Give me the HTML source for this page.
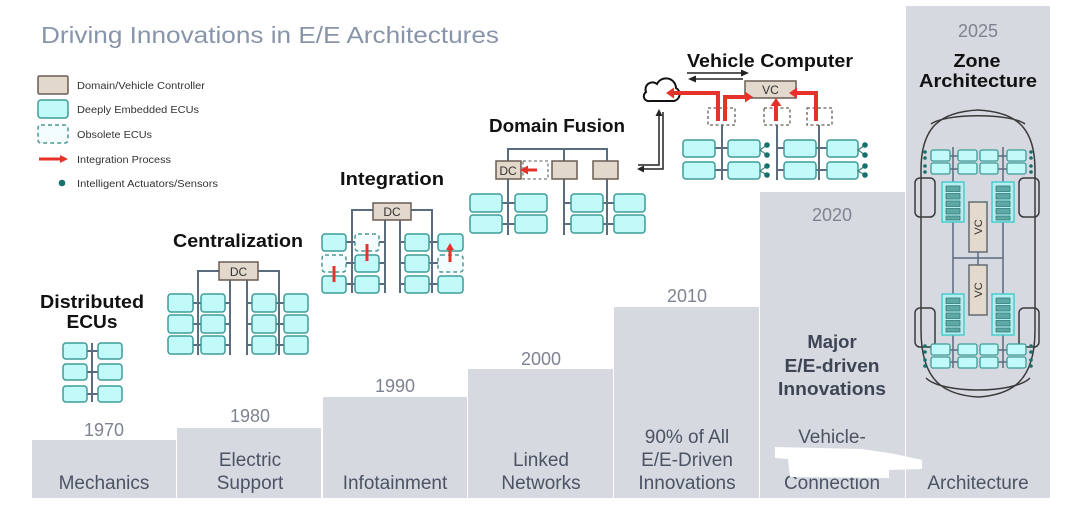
<!DOCTYPE html>
<html>
<head>
<meta charset="utf-8">
<style>
  html,body{margin:0;padding:0;background:#fff;}
  body{width:1080px;height:507px;overflow:hidden;}
  svg{display:block;}
  text{font-family:"Liberation Sans",Arial,sans-serif;}
</style>
</head>
<body>
<svg width="1080" height="507" viewBox="0 0 1080 507" xmlns="http://www.w3.org/2000/svg">
  <!-- steps -->
  <g fill="#d6d9e0">
    <rect x="32" y="440" width="144" height="58"/>
    <rect x="177" y="428" width="144" height="70"/>
    <rect x="323" y="397" width="144" height="101"/>
    <rect x="468" y="369" width="145" height="129"/>
    <rect x="614" y="307" width="145" height="191"/>
    <rect x="760" y="192" width="145" height="306"/>
    <rect x="906" y="6" width="144" height="492"/>
  </g>

  <!-- title -->
  <text x="41" y="43" font-size="23.5" fill="#8894a9" textLength="458" lengthAdjust="spacingAndGlyphs">Driving Innovations in E/E Architectures</text>

  <!-- legend -->
  <rect x="38" y="76" width="30" height="18" rx="1.5" fill="#e2d8cb" stroke="#6a5d54" stroke-width="1.5"/>
  <rect x="38" y="100" width="30" height="18" rx="3" fill="#c2fafa" stroke="#3e9b97" stroke-width="1.5"/>
  <rect x="38" y="125" width="30" height="18" rx="3" fill="#f3fdfd" stroke="#4b9a97" stroke-width="1.5" stroke-dasharray="4,3"/>
  <line x1="39" y1="159" x2="61" y2="159" stroke="#e5332b" stroke-width="3"/>
  <polygon points="68,159 60,155 60,163" fill="#e5332b"/>
  <circle cx="62" cy="183" r="3.3" fill="#17706d"/>
  <g font-size="10" fill="#333">
    <text x="77" y="89" textLength="128" lengthAdjust="spacingAndGlyphs">Domain/Vehicle Controller</text>
    <text x="77" y="113" textLength="122" lengthAdjust="spacingAndGlyphs">Deeply Embedded ECUs</text>
    <text x="77" y="138" textLength="75" lengthAdjust="spacingAndGlyphs">Obsolete ECUs</text>
    <text x="77" y="163" textLength="94" lengthAdjust="spacingAndGlyphs">Integration Process</text>
    <text x="77" y="187" textLength="141" lengthAdjust="spacingAndGlyphs">Intelligent Actuators/Sensors</text>
  </g>

  <!-- section titles -->
  <g font-size="18" font-weight="bold" fill="#111" text-anchor="middle">
    <text x="92" y="308" textLength="104" lengthAdjust="spacingAndGlyphs">Distributed</text>
    <text x="92" y="328" textLength="51" lengthAdjust="spacingAndGlyphs">ECUs</text>
    <text x="238" y="247" textLength="130" lengthAdjust="spacingAndGlyphs">Centralization</text>
    <text x="392" y="185" textLength="104" lengthAdjust="spacingAndGlyphs">Integration</text>
    <text x="557" y="132" textLength="136" lengthAdjust="spacingAndGlyphs">Domain Fusion</text>
    <text x="770" y="67" textLength="166" lengthAdjust="spacingAndGlyphs">Vehicle Computer</text>
    <text x="977" y="67" textLength="47" lengthAdjust="spacingAndGlyphs">Zone</text>
    <text x="978" y="87" textLength="118" lengthAdjust="spacingAndGlyphs">Architecture</text>
  </g>

  <!-- years -->
  <g font-size="18" fill="#7d8391" text-anchor="middle">
    <text x="104" y="436">1970</text>
    <text x="250" y="422">1980</text>
    <text x="395" y="392">1990</text>
    <text x="541" y="365">2000</text>
    <text x="687" y="302">2010</text>
    <text x="832" y="221">2020</text>
    <text x="978" y="37">2025</text>
  </g>

  <!-- bottom labels -->
  <g font-size="19" fill="#4b5364" text-anchor="middle">
    <text x="104" y="489">Mechanics</text>
    <text x="250" y="466">Electric</text>
    <text x="250" y="489">Support</text>
    <text x="395" y="489">Infotainment</text>
    <text x="541" y="466">Linked</text>
    <text x="541" y="489">Networks</text>
    <text x="687" y="443">90% of All</text>
    <text x="687" y="466">E/E-Driven</text>
    <text x="687" y="489">Innovations</text>
    <text x="832" y="443">Vehicle-</text>
    <text x="832" y="466">to-X</text>
    <text x="832" y="489">Connection</text>
    <text x="978" y="489">Architecture</text>
  </g>
  <g font-size="18.5" font-weight="bold" fill="#3d4555" text-anchor="middle">
    <text x="832" y="348">Major</text>
    <text x="832" y="372" textLength="95" lengthAdjust="spacingAndGlyphs">E/E-driven</text>
    <text x="832" y="395" textLength="108" lengthAdjust="spacingAndGlyphs">Innovations</text>
  </g>
  <!-- white smear -->
  <polygon points="775,447 862,449 895,454 922,460 922,469 889,470 889,478 790,477 788,459 775,458" fill="#ffffff"/>

  <!-- ===== Distributed ECUs ===== -->
  <g stroke="#5b6b80" stroke-width="2">
    <line x1="92" y1="343" x2="92" y2="402"/>
    <line x1="87" y1="351" x2="98" y2="351"/>
    <line x1="87" y1="372" x2="98" y2="372"/>
    <line x1="87" y1="394" x2="98" y2="394"/>
  </g>
  <g fill="#c2fafa" stroke="#3e9b97" stroke-width="1.5">
    <rect x="63" y="343" width="24" height="16" rx="3"/>
    <rect x="98" y="343" width="24" height="16" rx="3"/>
    <rect x="63" y="364" width="24" height="16" rx="3"/>
    <rect x="98" y="364" width="24" height="16" rx="3"/>
    <rect x="63" y="386" width="24" height="16" rx="3"/>
    <rect x="98" y="386" width="24" height="16" rx="3"/>
  </g>

  <!-- ===== Centralization ===== -->
  <g stroke="#5b6b80" stroke-width="2" fill="none">
    <polyline points="198,355 198,271 219,271"/>
    <polyline points="258,271 279,271 279,355"/>
    <line x1="230" y1="280" x2="230" y2="355"/>
    <line x1="247" y1="280" x2="247" y2="355"/>
    <line x1="193" y1="303" x2="201" y2="303"/><line x1="193" y1="324" x2="201" y2="324"/><line x1="193" y1="345" x2="201" y2="345"/>
    <line x1="225" y1="303" x2="230" y2="303"/><line x1="225" y1="324" x2="230" y2="324"/><line x1="225" y1="345" x2="230" y2="345"/>
    <line x1="247" y1="303" x2="252" y2="303"/><line x1="247" y1="324" x2="252" y2="324"/><line x1="247" y1="345" x2="252" y2="345"/>
    <line x1="276" y1="303" x2="284" y2="303"/><line x1="276" y1="324" x2="284" y2="324"/><line x1="276" y1="345" x2="284" y2="345"/>
  </g>
  <rect x="219" y="262" width="39" height="18" fill="#e2d8cb" stroke="#6a5d54" stroke-width="1.5"/>
  <text x="238.5" y="276" font-size="12" fill="#333" text-anchor="middle">DC</text>
  <g fill="#c2fafa" stroke="#3e9b97" stroke-width="1.5">
    <rect x="168" y="294" width="25" height="18" rx="3"/><rect x="201" y="294" width="24" height="18" rx="3"/><rect x="252" y="294" width="24" height="18" rx="3"/><rect x="284" y="294" width="24" height="18" rx="3"/>
    <rect x="168" y="315" width="25" height="18" rx="3"/><rect x="201" y="315" width="24" height="18" rx="3"/><rect x="252" y="315" width="24" height="18" rx="3"/><rect x="284" y="315" width="24" height="18" rx="3"/>
    <rect x="168" y="336" width="25" height="18" rx="3"/><rect x="201" y="336" width="24" height="18" rx="3"/><rect x="252" y="336" width="24" height="18" rx="3"/><rect x="284" y="336" width="24" height="18" rx="3"/>
  </g>

  <!-- ===== Integration ===== -->
  <g stroke="#5b6b80" stroke-width="2" fill="none">
    <polyline points="352,293 352,210 373,210"/>
    <polyline points="411,210 432,210 432,293"/>
    <line x1="385" y1="220" x2="385" y2="293"/>
    <line x1="400" y1="220" x2="400" y2="293"/>
    <line x1="346" y1="242" x2="355" y2="242"/><line x1="346" y1="263" x2="355" y2="263"/><line x1="346" y1="284" x2="355" y2="284"/>
    <line x1="379" y1="242" x2="385" y2="242"/><line x1="379" y1="263" x2="385" y2="263"/><line x1="379" y1="284" x2="385" y2="284"/>
    <line x1="400" y1="242" x2="405" y2="242"/><line x1="400" y1="263" x2="405" y2="263"/><line x1="400" y1="284" x2="405" y2="284"/>
    <line x1="429" y1="242" x2="438" y2="242"/><line x1="429" y1="263" x2="438" y2="263"/><line x1="429" y1="284" x2="438" y2="284"/>
  </g>
  <rect x="373" y="203" width="38" height="17" fill="#e2d8cb" stroke="#6a5d54" stroke-width="1.5"/>
  <text x="392" y="216" font-size="12" fill="#333" text-anchor="middle">DC</text>
  <g fill="#c2fafa" stroke="#3e9b97" stroke-width="1.5">
    <rect x="322" y="234" width="24" height="17" rx="3"/><rect x="405" y="234" width="24" height="17" rx="3"/><rect x="438" y="234" width="25" height="17" rx="3"/>
    <rect x="355" y="255" width="24" height="17" rx="3"/><rect x="405" y="255" width="24" height="17" rx="3"/>
    <rect x="322" y="276" width="24" height="17" rx="3"/><rect x="355" y="276" width="24" height="17" rx="3"/><rect x="405" y="276" width="24" height="17" rx="3"/><rect x="438" y="276" width="25" height="17" rx="3"/>
  </g>
  <g fill="#f3fdfd" stroke="#4b9a97" stroke-width="1.5" stroke-dasharray="4,3">
    <rect x="322" y="255" width="24" height="17" rx="3"/>
    <rect x="355" y="234" width="24" height="17" rx="3"/>
    <rect x="438" y="255" width="25" height="17" rx="3"/>
  </g>
  <g stroke="#e5332b" stroke-width="3">
    <line x1="334" y1="266" x2="334" y2="282"/>
    <line x1="367" y1="244" x2="367" y2="261"/>
    <line x1="450" y1="249" x2="450" y2="262"/>
  </g>
  <polygon points="450,243 446,250 454,250" fill="#e5332b"/>

  <!-- ===== Domain Fusion ===== -->
  <g stroke="#5b6b80" stroke-width="2" fill="none">
    <polyline points="508,235 508,149 607,149 607,235"/>
    <line x1="564" y1="149" x2="564" y2="235"/>
    <line x1="502" y1="203" x2="515" y2="203"/><line x1="502" y1="224" x2="515" y2="224"/>
    <line x1="564" y1="203" x2="571" y2="203"/><line x1="564" y1="224" x2="571" y2="224"/>
    <line x1="603" y1="203" x2="614" y2="203"/><line x1="603" y1="224" x2="614" y2="224"/>
  </g>
  <rect x="496" y="161" width="25" height="18" fill="#e2d8cb" stroke="#6a5d54" stroke-width="1.5"/>
  <text x="508" y="175" font-size="12" fill="#333" text-anchor="middle">DC</text>
  <rect x="523" y="161" width="25" height="18" fill="#fff" stroke="#7a7a7a" stroke-width="1.3" stroke-dasharray="3,2.5"/>
  <rect x="552" y="161" width="25" height="18" fill="#e2d8cb" stroke="#6a5d54" stroke-width="1.5"/>
  <rect x="593" y="161" width="25" height="18" fill="#e2d8cb" stroke="#6a5d54" stroke-width="1.5"/>
  <line x1="537" y1="170" x2="526" y2="170" stroke="#e5332b" stroke-width="3"/>
  <polygon points="520,170 528,165.5 528,174.5" fill="#e5332b"/>
  <g fill="#c2fafa" stroke="#3e9b97" stroke-width="1.5">
    <rect x="470" y="194" width="32" height="18" rx="3"/><rect x="515" y="194" width="32" height="18" rx="3"/><rect x="571" y="194" width="32" height="18" rx="3"/><rect x="614" y="194" width="31" height="18" rx="3"/>
    <rect x="470" y="215" width="32" height="18" rx="3"/><rect x="515" y="215" width="32" height="18" rx="3"/><rect x="571" y="215" width="32" height="18" rx="3"/><rect x="614" y="215" width="31" height="18" rx="3"/>
  </g>

  <!-- ===== Vehicle Computer ===== -->
  <!-- black arrows -->
  <g stroke="#222" stroke-width="1.5" fill="none">
    <line x1="687" y1="73" x2="743" y2="73"/>
    <line x1="694" y1="79" x2="743" y2="79"/>
    <polyline points="638,165 659,165 659,115"/>
    <polyline points="663,112 663,169 643,169"/>
  </g>
  <g fill="#222">
    <polygon points="749,73 741,69.5 741,76.5"/>
    <polygon points="688,79 696,75.5 696,82.5"/>
    <polygon points="659,109 655.5,116 662.5,116"/>
    <polygon points="637,169 644,165.5 644,172.5"/>
  </g>
  <!-- cloud -->
  <path d="M650,101 H674 A7,7 0 0 0 676,88 A10,10 0 0 0 657,84 A7,7 0 0 0 646,92 A5,5 0 0 0 650,101 Z" fill="#fff" stroke="#111" stroke-width="2"/>
  <!-- buses -->
  <g stroke="#5b6b80" stroke-width="2" fill="none">
    <line x1="722" y1="125" x2="722" y2="180"/>
    <line x1="777" y1="125" x2="777" y2="180"/>
    <line x1="819" y1="125" x2="819" y2="180"/>
    <line x1="715" y1="148" x2="728" y2="148"/><line x1="715" y1="170" x2="728" y2="170"/>
    <line x1="777" y1="148" x2="784" y2="148"/><line x1="777" y1="170" x2="784" y2="170"/>
    <line x1="816" y1="148" x2="827" y2="148"/><line x1="816" y1="170" x2="827" y2="170"/>
  </g>
  <g fill="#fff" stroke="#6a5d54" stroke-width="1.3" stroke-dasharray="3,2.5">
    <rect x="708" y="108" width="27" height="17"/>
    <rect x="764" y="108" width="26" height="17"/>
    <rect x="807" y="108" width="25" height="17"/>
  </g>
  <rect x="745" y="81" width="51" height="17" fill="#e2d8cb" stroke="#6a5d54" stroke-width="1.5"/>
  <text x="770.5" y="94" font-size="12" fill="#333" text-anchor="middle">VC</text>
  <g stroke="#e5332b" stroke-width="4" fill="none">
    <polyline points="718,121 718,93 673,93"/>
    <polyline points="725,121 725,97 745,97"/>
    <line x1="776" y1="121" x2="776" y2="105"/>
    <polyline points="816,121 816,93 797,93"/>
  </g>
  <g fill="#e5332b">
    <polygon points="666,93 674,87.5 674,98.5"/>
    <polygon points="753,97 745,91.5 745,102.5"/>
    <polygon points="776,98 770.5,106 781.5,106"/>
    <polygon points="789,93 797,87.5 797,98.5"/>
  </g>
  <g fill="#c2fafa" stroke="#3e9b97" stroke-width="1.5">
    <rect x="683" y="140" width="32" height="17" rx="3"/><rect x="728" y="140" width="32" height="17" rx="3"/><rect x="784" y="140" width="32" height="17" rx="3"/><rect x="827" y="140" width="31" height="17" rx="3"/>
    <rect x="683" y="162" width="32" height="17" rx="3"/><rect x="728" y="162" width="32" height="17" rx="3"/><rect x="784" y="162" width="32" height="17" rx="3"/><rect x="827" y="162" width="31" height="17" rx="3"/>
  </g>
  <g stroke="#3e7f7c" stroke-width="1.2" fill="none">
    <polyline points="767,145 760,150 767,155"/>
    <polyline points="767,166 760,171 767,175"/>
    <polyline points="865,145 858,150 865,155"/>
    <polyline points="865,166 858,171 865,175"/>
  </g>
  <g fill="#17706d">
    <circle cx="767" cy="145" r="2.8"/><circle cx="767" cy="155" r="2.8"/>
    <circle cx="767" cy="166" r="2.8"/><circle cx="767" cy="175" r="2.8"/>
    <circle cx="865" cy="145" r="2.8"/><circle cx="865" cy="155" r="2.8"/>
    <circle cx="865" cy="166" r="2.8"/><circle cx="865" cy="175" r="2.8"/>
  </g>

  <!-- ===== Zone Architecture car ===== -->
  <g stroke="#3a3a3a" stroke-width="1.5" fill="none">
    <path d="M921,330 V170 C921,127 940,112 978,110 C1016,112 1035,127 1035,170 V330 C1035,383 1010,395 978,397 C946,395 921,383 921,330 Z"/>
    <path d="M931,124 C946,113 1010,113 1025,124"/>
    <path d="M926,378 C942,394 1014,394 1030,378"/>
    <rect x="915" y="178" width="20" height="39" rx="5"/>
    <rect x="1019" y="178" width="20" height="39" rx="5"/>
    <rect x="915" y="308" width="20" height="39" rx="5"/>
    <rect x="1019" y="308" width="20" height="39" rx="5"/>
  </g>
  <g stroke="#5b6b80" stroke-width="1.5" fill="none">
    <line x1="953" y1="147" x2="953" y2="368"/>
    <line x1="1003" y1="147" x2="1003" y2="368"/>
    <line x1="953" y1="258" x2="1003" y2="258"/>
    <line x1="978" y1="252" x2="978" y2="265"/>
    <line x1="950" y1="156" x2="958" y2="156"/><line x1="950" y1="169" x2="958" y2="169"/>
    <line x1="998" y1="156" x2="1007" y2="156"/><line x1="998" y1="169" x2="1007" y2="169"/>
    <line x1="950" y1="350" x2="958" y2="350"/><line x1="950" y1="362" x2="958" y2="362"/>
    <line x1="998" y1="350" x2="1007" y2="350"/><line x1="998" y1="362" x2="1007" y2="362"/>
  </g>
  <g fill="#c2fafa" stroke="#3e9b97" stroke-width="1.3">
    <rect x="931" y="150" width="19" height="11" rx="2"/><rect x="958" y="150" width="19" height="11" rx="2"/><rect x="980" y="150" width="18" height="11" rx="2"/><rect x="1007" y="150" width="19" height="11" rx="2"/>
    <rect x="931" y="163" width="19" height="11" rx="2"/><rect x="958" y="163" width="19" height="11" rx="2"/><rect x="980" y="163" width="18" height="11" rx="2"/><rect x="1007" y="163" width="19" height="11" rx="2"/>
    <rect x="931" y="344" width="19" height="11" rx="2"/><rect x="958" y="344" width="19" height="11" rx="2"/><rect x="980" y="344" width="18" height="11" rx="2"/><rect x="1007" y="344" width="19" height="11" rx="2"/>
    <rect x="931" y="357" width="19" height="11" rx="2"/><rect x="958" y="357" width="19" height="11" rx="2"/><rect x="980" y="357" width="18" height="11" rx="2"/><rect x="1007" y="357" width="19" height="11" rx="2"/>
  </g>
  <g fill="#17706d">
    <circle cx="925" cy="152" r="1.8"/><circle cx="925" cy="158" r="1.8"/><circle cx="925" cy="166" r="1.8"/><circle cx="925" cy="172" r="1.8"/>
    <circle cx="1031" cy="152" r="1.8"/><circle cx="1031" cy="158" r="1.8"/><circle cx="1031" cy="166" r="1.8"/><circle cx="1031" cy="172" r="1.8"/>
    <circle cx="925" cy="346" r="1.8"/><circle cx="925" cy="352" r="1.8"/><circle cx="925" cy="360" r="1.8"/><circle cx="925" cy="366" r="1.8"/>
    <circle cx="1031" cy="346" r="1.8"/><circle cx="1031" cy="352" r="1.8"/><circle cx="1031" cy="360" r="1.8"/><circle cx="1031" cy="366" r="1.8"/>
  </g>
  <!-- zone controllers -->
  <g>
    <rect x="942" y="182" width="22" height="40" fill="#b9eeee" stroke="#48cccc" stroke-width="1.5"/>
    <rect x="992" y="182" width="22" height="40" fill="#b9eeee" stroke="#48cccc" stroke-width="1.5"/>
    <rect x="942" y="294" width="22" height="41" fill="#b9eeee" stroke="#48cccc" stroke-width="1.5"/>
    <rect x="992" y="294" width="22" height="41" fill="#b9eeee" stroke="#48cccc" stroke-width="1.5"/>
  </g>
  <g fill="#5fa8a6" stroke="#2f7b78" stroke-width="0.8">
    <rect x="946" y="186" width="14" height="5.5"/><rect x="946" y="193.5" width="14" height="5.5"/><rect x="946" y="201" width="14" height="5.5"/><rect x="946" y="208.5" width="14" height="5.5"/><rect x="946" y="216" width="14" height="4"/>
    <rect x="996" y="186" width="14" height="5.5"/><rect x="996" y="193.5" width="14" height="5.5"/><rect x="996" y="201" width="14" height="5.5"/><rect x="996" y="208.5" width="14" height="5.5"/><rect x="996" y="216" width="14" height="4"/>
    <rect x="946" y="298" width="14" height="5.5"/><rect x="946" y="305.5" width="14" height="5.5"/><rect x="946" y="313" width="14" height="5.5"/><rect x="946" y="320.5" width="14" height="5.5"/><rect x="946" y="328" width="14" height="4"/>
    <rect x="996" y="298" width="14" height="5.5"/><rect x="996" y="305.5" width="14" height="5.5"/><rect x="996" y="313" width="14" height="5.5"/><rect x="996" y="320.5" width="14" height="5.5"/><rect x="996" y="328" width="14" height="4"/>
  </g>
  <rect x="969" y="202" width="18" height="50" fill="#e3dacd" stroke="#646a72" stroke-width="1.5"/>
  <rect x="969" y="265" width="18" height="50" fill="#e3dacd" stroke="#646a72" stroke-width="1.5"/>
  <text transform="translate(982,227) rotate(-90)" font-size="11" fill="#333" text-anchor="middle">VC</text>
  <text transform="translate(982,290) rotate(-90)" font-size="11" fill="#333" text-anchor="middle">VC</text>
</svg>
</body>
</html>
